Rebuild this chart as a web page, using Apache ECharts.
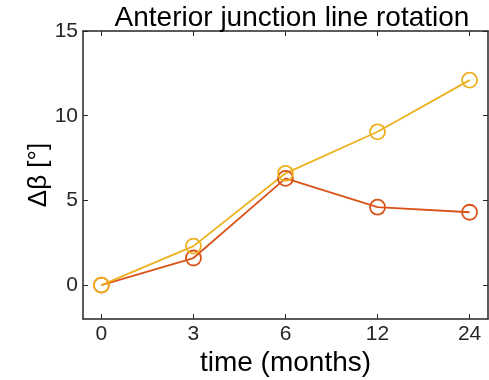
<!DOCTYPE html>
<html><head><meta charset="utf-8">
<script src="https://cdn.jsdelivr.net/npm/echarts@6/dist/echarts.min.js"></script>
<style>html,body{margin:0;padding:0;background:#fff}#c{width:489px;height:380px}</style>
</head><body><div id="c"></div>
<script>
const categories = ['0', '3', '6', '12', '24'];
const seriesRed = [0, 1.6, 6.3, 4.6, 4.3];
const seriesYellow = [0, 2.3, 6.6, 9.05, 12.1];
const yTicks = [0, 5, 10, 15];

const chart = echarts.init(document.getElementById('c'));
const font = 'Liberation Sans, Arial, sans-serif';
const axisColor = '#262626';
const idx = categories.map((_, i) => i);
function mk(vals) { return vals.map((v, i) => [i, v]); }

const xBase = {
  type: 'value', min: -0.2, max: 4.2,
  axisLine: { show: true, onZero: false, lineStyle: { color: axisColor, width: 1.5 } },
  axisTick: { show: true, inside: true, length: 5, customValues: idx, lineStyle: { color: axisColor, width: 1 } },
  splitLine: { show: false }
};
const yBase = {
  type: 'value', min: -2, max: 15,
  axisLine: { show: true, onZero: false, lineStyle: { color: axisColor, width: 1.5 } },
  axisTick: { show: true, inside: true, length: 5, customValues: yTicks, lineStyle: { color: axisColor, width: 1 } },
  splitLine: { show: false }
};

chart.setOption({
  animation: false,
  title: {
    text: 'Anterior junction line rotation',
    left: 287, top: -1, textAlign: 'center',
    textStyle: { fontFamily: font, fontSize: 28, fontWeight: 'normal', color: '#000' }
  },
  grid: { left: 83, right: 1, top: 31, bottom: 61, containLabel: false, outerBoundsMode: 'none' },
  xAxis: [
    Object.assign({}, xBase, {
      position: 'bottom',
      name: 'time (months)', nameLocation: 'middle', nameGap: 30, nameMoveOverlap: false,
      nameTextStyle: { fontFamily: font, fontSize: 28, color: '#000' },
      axisLabel: { show: true, customValues: idx, margin: 5, fontFamily: font, fontSize: 21, color: axisColor,
        formatter: v => categories[Math.round(v)] }
    }),
    Object.assign({}, xBase, { position: 'top', axisLabel: { show: false } })
  ],
  yAxis: [
    Object.assign({}, yBase, {
      position: 'left',
      name: 'Δβ [°]', nameLocation: 'middle', nameGap: 31, nameRotate: 90, nameMoveOverlap: false,
      nameTextStyle: { fontFamily: font, fontSize: 26, color: '#000' },
      axisLabel: { show: true, customValues: yTicks, margin: 5, fontFamily: font, fontSize: 21, color: axisColor }
    }),
    Object.assign({}, yBase, { position: 'right', axisLabel: { show: false } })
  ],
  series: [
    { type: 'line', data: mk(seriesRed), color: '#D95319', symbol: 'circle', symbolSize: 15,
      lineStyle: { width: 1.8, color: '#D95319' },
      itemStyle: { color: 'rgba(0,0,0,0)', borderColor: '#D95319', borderWidth: 1.8 } },
    { type: 'line', data: mk(seriesYellow), color: '#EDB120', symbol: 'circle', symbolSize: 15,
      lineStyle: { width: 1.8, color: '#EDB120' },
      itemStyle: { color: 'rgba(0,0,0,0)', borderColor: '#EDB120', borderWidth: 1.8 } }
  ]
});
</script></body></html>
